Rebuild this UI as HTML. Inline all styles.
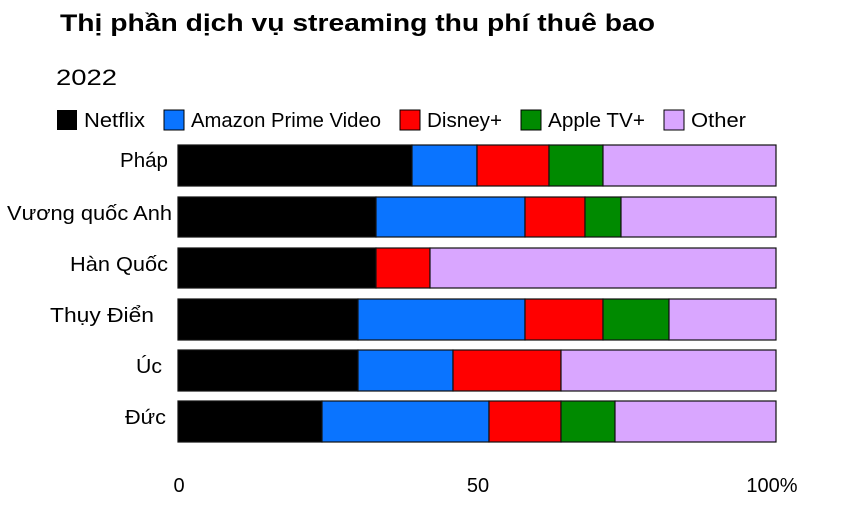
<!DOCTYPE html>
<html><head><meta charset="utf-8"><style>
body{margin:0;background:#fff;}
svg{display:block;font-family:"Liberation Sans","DejaVu Sans",sans-serif;}
</style></head><body>
<svg width="863" height="512" xmlns="http://www.w3.org/2000/svg">
<rect width="863" height="512" fill="#fff"/>
<text x="60" y="31" font-size="24" font-weight="bold" fill="#000" textLength="595" lengthAdjust="spacingAndGlyphs">Thị phần dịch vụ streaming thu phí thuê bao</text>
<text x="56" y="85" font-size="22" fill="#000" textLength="61" lengthAdjust="spacingAndGlyphs">2022</text>
<g font-size="20" fill="#000">
<rect x="57" y="110" width="20" height="20" fill="#000"/><text x="84" y="127" textLength="61" lengthAdjust="spacingAndGlyphs">Netflix</text>
<rect x="164" y="110" width="20" height="20" fill="#0a74ff" stroke="#000"/><text x="191" y="127" textLength="190" lengthAdjust="spacingAndGlyphs">Amazon Prime Video</text>
<rect x="400" y="110" width="20" height="20" fill="#ff0000" stroke="#000"/><text x="427" y="127" textLength="75" lengthAdjust="spacingAndGlyphs">Disney+</text>
<rect x="521" y="110" width="20" height="20" fill="#008a00" stroke="#000"/><text x="548" y="127" textLength="97" lengthAdjust="spacingAndGlyphs">Apple TV+</text>
<rect x="664" y="110" width="20" height="20" fill="#d9a6ff" stroke="#000"/><text x="691" y="127" textLength="55" lengthAdjust="spacingAndGlyphs">Other</text>
</g>
<g stroke="#111" stroke-width="1.2">
<rect x="178" y="145" width="234" height="41" fill="#000"/>
<rect x="412" y="145" width="65" height="41" fill="#0a74ff"/>
<rect x="477" y="145" width="72" height="41" fill="#ff0000"/>
<rect x="549" y="145" width="54" height="41" fill="#008a00"/>
<rect x="603" y="145" width="173" height="41" fill="#d9a6ff"/>
<rect x="178" y="197" width="198" height="40" fill="#000"/>
<rect x="376" y="197" width="149" height="40" fill="#0a74ff"/>
<rect x="525" y="197" width="60" height="40" fill="#ff0000"/>
<rect x="585" y="197" width="36" height="40" fill="#008a00"/>
<rect x="621" y="197" width="155" height="40" fill="#d9a6ff"/>
<rect x="178" y="248" width="198" height="40" fill="#000"/>
<rect x="376" y="248" width="54" height="40" fill="#ff0000"/>
<rect x="430" y="248" width="346" height="40" fill="#d9a6ff"/>
<rect x="178" y="299" width="180" height="41" fill="#000"/>
<rect x="358" y="299" width="167" height="41" fill="#0a74ff"/>
<rect x="525" y="299" width="78" height="41" fill="#ff0000"/>
<rect x="603" y="299" width="66" height="41" fill="#008a00"/>
<rect x="669" y="299" width="107" height="41" fill="#d9a6ff"/>
<rect x="178" y="350" width="180" height="41" fill="#000"/>
<rect x="358" y="350" width="95" height="41" fill="#0a74ff"/>
<rect x="453" y="350" width="108" height="41" fill="#ff0000"/>
<rect x="561" y="350" width="215" height="41" fill="#d9a6ff"/>
<rect x="178" y="401" width="144" height="41" fill="#000"/>
<rect x="322" y="401" width="167" height="41" fill="#0a74ff"/>
<rect x="489" y="401" width="72" height="41" fill="#ff0000"/>
<rect x="561" y="401" width="54" height="41" fill="#008a00"/>
<rect x="615" y="401" width="161" height="41" fill="#d9a6ff"/>
</g>
<g font-size="20" fill="#000">
<text x="120" y="167" textLength="48" lengthAdjust="spacingAndGlyphs">Pháp</text>
<text x="7" y="220" textLength="165" lengthAdjust="spacingAndGlyphs">Vương quốc Anh</text>
<text x="70" y="271" textLength="98" lengthAdjust="spacingAndGlyphs">Hàn Quốc</text>
<text x="50" y="322" textLength="104" lengthAdjust="spacingAndGlyphs">Thụy Điển</text>
<text x="136" y="373" textLength="26" lengthAdjust="spacingAndGlyphs">Úc</text>
<text x="125" y="424" textLength="41" lengthAdjust="spacingAndGlyphs">Đức</text>
</g>
<g font-size="20" fill="#000" text-anchor="middle">
<text x="179" y="492">0</text>
<text x="478" y="492">50</text>
<text x="772" y="492">100%</text>
</g>
</svg>
</body></html>
